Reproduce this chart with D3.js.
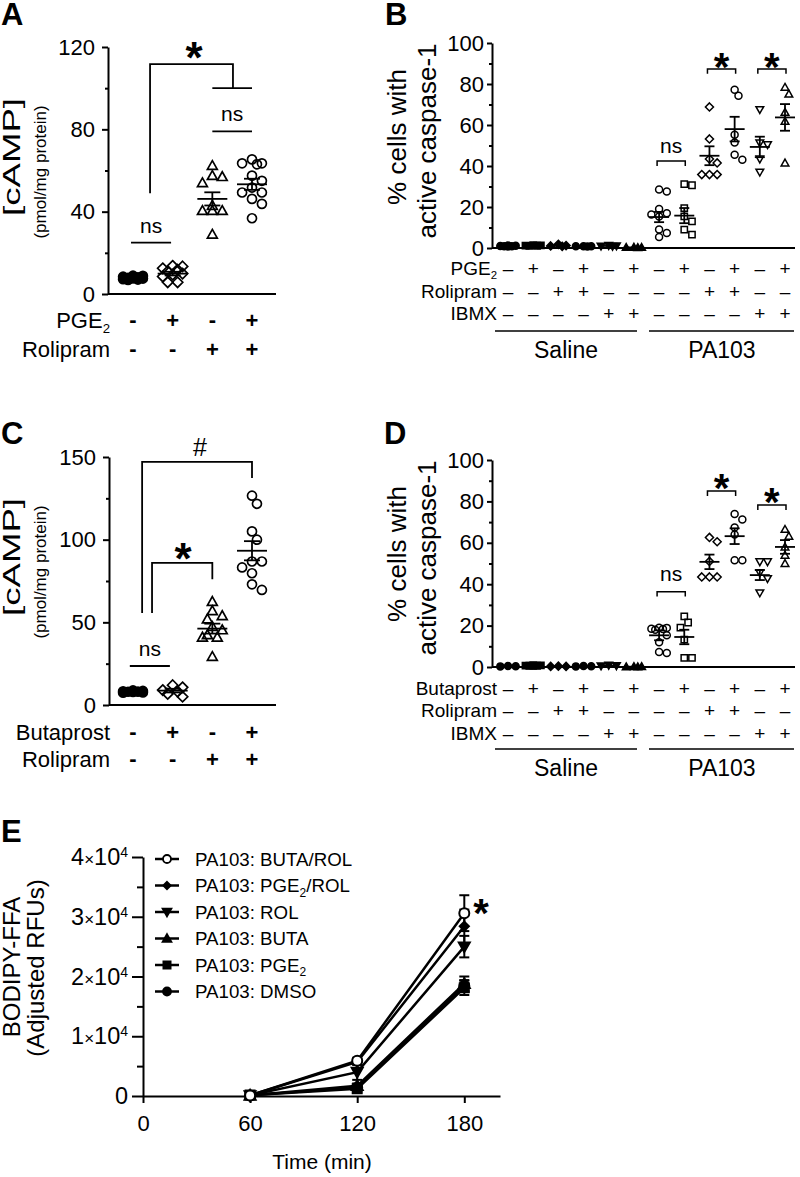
<!DOCTYPE html>
<html><head><meta charset="utf-8">
<script src="https://cdn.jsdelivr.net/npm/d3@7"></script>
<style>body{margin:0;background:#fff} svg{display:block}</style>
</head><body>
<svg id="c" width="800" height="1177"></svg>
<script>
// ---------------- DATA ----------------
// Panel A: cAMP, PGE2 / Rolipram
const aPGE2 = ["-", "+", "-", "+"];
const aRolipram = ["-", "-", "+", "+"];
const aSymbols = ["circle", "diamond", "triangle", "circle"];
const aFilled = [true, false, false, false];
const aValues = [
  [7.2, 7.8, 8.4, 7.0, 8.8, 7.5, 8.1, 8.9, 7.6, 6.8],
  [13.7, 13.4, 11.8, 11.0, 9.9, 9.4, 8.5, 5.7, 5.7, 12.5],
  [62.4, 57.0, 57.5, 54.0, 43.0, 40.5, 40.5, 40.5, 29.0],
  [63.5, 63.5, 65.4, 63.0, 57.5, 55.0, 51.7, 49.3, 49.3, 46.2, 43.8, 36.8]
];
const aMean = [7.8, 9.9, 46.2, 53.3];
const aSem = [0.3, 0.9, 3.2, 2.7];
const aTicks = [0, 40, 80, 120];
const aMinor = [20, 60, 100];

// Panel C: cAMP, Butaprost / Rolipram
const cButaprost = ["-", "+", "-", "+"];
const cRolipram = ["-", "-", "+", "+"];
const cSymbols = ["circle", "diamond", "triangle", "circle"];
const cFilled = [true, false, false, false];
const cValues = [
  [8.1, 7.6, 8.5, 7.9, 8.3, 7.4, 8.8, 8.0],
  [12.0, 10.7, 9.0, 8.1, 6.7, 5.0],
  [62.6, 57.0, 54.0, 52.0, 47.4, 45.4, 42.4, 41.0, 41.0, 29.3],
  [126.6, 121.7, 105.0, 100.0, 86.8, 86.8, 83.2, 79.7, 73.0, 69.6]
];
const cMean = [8.1, 8.7, 46.2, 93.3];
const cSem = [0.3, 1.1, 3.0, 5.8];
const cTicks = [0, 50, 100, 150];
const cMinor = [25, 75, 125];

// Panel B: % caspase-1, PGE2 / Rolipram / IBMX
const bPGE2 =     ["-", "+", "-", "+", "-", "+", "-", "+", "-", "+", "-", "+"];
const bRolipram = ["-", "-", "+", "+", "-", "-", "-", "-", "+", "+", "-", "-"];
const bIBMX =     ["-", "-", "-", "-", "+", "+", "-", "-", "-", "-", "+", "+"];
const bSymbols = ["circle", "square", "diamond", "circle", "triangleDown", "triangle",
                  "circle", "square", "diamond", "circle", "triangleDown", "triangle"];
const bFilled = [true, true, true, true, true, true, false, false, false, false, false, false];
const bValues = [
  [1.0, 0.8, 1.2, 0.9, 1.1, 0.7],
  [1.2, 1.0, 1.4, 1.1, 1.3],
  [1.0, 0.8, 1.8, 1.2],
  [0.8, 0.7, 0.9, 0.8],
  [1.0, 0.8, 1.2, 0.9],
  [0.3, 0.4, 0.2, 0.3],
  [27.6, 28.5, 19.0, 17.0, 16.3, 15.4, 9.0, 7.3, 5.4],
  [30.6, 31.2, 19.5, 15.4, 13.0, 9.0, 6.5],
  [68.8, 53.2, 43.4, 41.5, 35.8, 35.8, 35.8],
  [77.2, 74.3, 55.3, 51.5, 45.5, 43.0],
  [67.5, 51.2, 50.4, 43.4, 37.0],
  [78.4, 75.1, 66.2, 61.8, 41.5]
];
const bMean = [1.0, 1.2, 1.1, 0.8, 1.0, 0.3, 15.1, 15.8, 45.0, 58.0, 49.3, 63.7];
const bSem = [0.1, 0.1, 0.2, 0.05, 0.1, 0.05, 2.5, 3.7, 4.6, 6.0, 5.0, 6.5];
const pctTicks = [0, 20, 40, 60, 80, 100];
const pctMinor = [10, 30, 50, 70, 90];
const treatGroups = ["Saline", "PA103"];

// Panel D: % caspase-1, Butaprost / Rolipram / IBMX
const dButaprost = ["-", "+", "-", "+", "-", "+", "-", "+", "-", "+", "-", "+"];
const dRolipram =  ["-", "-", "+", "+", "-", "-", "-", "-", "+", "+", "-", "-"];
const dIBMX =      ["-", "-", "-", "-", "+", "+", "-", "-", "-", "-", "+", "+"];
const dValues = [
  [0.4, 0.5, 0.3],
  [0.6, 0.8, 0.5, 0.7, 0.9, 0.6],
  [0.3, 0.4, 0.3],
  [0.4, 0.3, 0.5],
  [0.6, 0.8, 0.5],
  [0.1, 0.2, 0.1, 0.2],
  [18.9, 18.4, 18.5, 18.0, 19.0, 15.3, 12.0, 6.8, 7.3],
  [24.5, 21.5, 19.0, 13.2, 4.4, 4.4],
  [62.6, 60.5, 51.0, 43.5, 43.5, 43.5],
  [73.9, 71.3, 67.4, 64.0, 51.6, 51.6],
  [50.8, 50.8, 45.5, 42.7, 35.8],
  [66.5, 63.2, 58.0, 54.0, 50.0]
];
const dMean = [0.4, 0.6, 0.3, 0.4, 0.6, 0.15, 15.3, 14.5, 50.8, 63.2, 44.4, 58.0];
const dSem = [0.05, 0.1, 0.05, 0.05, 0.1, 0.05, 2.4, 3.5, 3.5, 3.8, 2.4, 3.3];

// Panel E: BODIPY-FFA time course
const eTimes = [60, 120, 180];
const eNames = ["BUTA/ROL", "PGE2/ROL", "ROL", "BUTA", "PGE2", "DMSO"];
const eSymbols = ["circle", "diamond", "triangleDown", "triangle", "square", "circle"];
const eFilled = [false, true, true, true, true, true];
const eMeans = [
  [100, 5900, 30600],
  [100, 5700, 28400],
  [100, 4000, 25000],
  [100, 1700, 18800],
  [150, 1200, 18100],
  [100, 1400, 18400]
];
const eErrs = [
  [80, 500, 3000],
  [80, 500, 2800],
  [80, 1300, 1800],
  [80, 400, 1200],
  [80, 500, 1200],
  [80, 400, 1000]
];
const eXTicks = [0, 60, 120, 180];
const eYTicks = [0, 10000, 20000, 30000, 40000];
const eYMinor = [5000, 15000, 25000, 35000];

// ---------------- DRAWING ----------------
const FONT = "'Liberation Sans', Arial, Helvetica, sans-serif";
const svg = d3.select("#c").attr("font-family", FONT);

function markerPath(type, s) {
  const h = s / 2;
  switch (type) {
    case "circle": return `M${h},0A${h},${h} 0 1,1 ${-h},0A${h},${h} 0 1,1 ${h},0Z`;
    case "square": { const q = h * 0.9; return `M${-q},${-q}H${q}V${q}H${-q}Z`; }
    case "diamond": { const d = h * 1.15; return `M0,${-d}L${d},0L0,${d}L${-d},0Z`; }
    case "triangle": return `M0,${-h * 1.1}L${h * 1.1},${h * 0.85}L${-h * 1.1},${h * 0.85}Z`;
    case "triangleDown": return `M0,${h * 1.1}L${h * 1.1},${-h * 0.85}L${-h * 1.1},${-h * 0.85}Z`;
  }
}
function marker(g, type, filled, s, x, y, sw) {
  g.append("path").attr("d", markerPath(type, s))
    .attr("transform", `translate(${x},${y})`)
    .attr("fill", filled ? "#000" : "none")
    .attr("stroke", "#000").attr("stroke-width", sw);
}
function line(g, x1, y1, x2, y2, sw) {
  g.append("line").attr("x1", x1).attr("y1", y1).attr("x2", x2).attr("y2", y2)
    .attr("stroke", "#000").attr("stroke-width", sw);
}
function txt(g, x, y, s, fs, anchor, weight) {
  return g.append("text").attr("x", x).attr("y", y).attr("font-size", fs)
    .attr("text-anchor", anchor || "middle").attr("font-weight", weight || "normal")
    .attr("fill", "#000").text(s);
}
// deterministic beeswarm offsets
function swarm(vals, y, size, maxHalf) {
  const pts = vals.map((v, i) => ({ v, py: y(v), i })).sort((a, b) => b.v - a.v);
  const placed = [];
  const step = size * 0.55;
  for (const p of pts) {
    let best = 0, bestScore = -Infinity;
    for (let k = 0; k <= 24; k++) {
      const off = (k % 2 === 1 ? 1 : -1) * Math.ceil(k / 2) * step || 0;
      if (Math.abs(off) > maxHalf) continue;
      let minD = Infinity;
      for (const q of placed) { const d = Math.hypot(q.dx - off, q.py - p.py); if (d < minD) minD = d; }
      if (minD >= size) { best = off; bestScore = Infinity; break; }
      if (minD > bestScore) { bestScore = minD; best = off; }
    }
    p.dx = best; placed.push(p);
  }
  return placed;
}
function dotPlot(g, o) {
  o.values.forEach((vals, i) => {
    const cx = o.x(i);
    swarm(vals, o.y, o.size, o.spread).forEach(p =>
      marker(g, o.symbols[i], o.filled[i], o.size, cx + p.dx, p.py, o.sw));
  });
  o.values.forEach((vals, i) => {
    const cx = o.x(i), m = o.mean[i], e = o.sem[i];
    line(g, cx - o.meanHalf, o.y(m), cx + o.meanHalf, o.y(m), 1.8);
    if (e > 0.3) {
      line(g, cx, o.y(m - e), cx, o.y(m + e), 1.8);
      line(g, cx - o.capHalf, o.y(m + e), cx + o.capHalf, o.y(m + e), 1.8);
      line(g, cx - o.capHalf, o.y(m - e), cx + o.capHalf, o.y(m - e), 1.8);
    }
  });
}
function yAxis(g, y, x0, majors, minors, fs, tl, pad, ml, fmt) {
  const ax = g.append("g").attr("transform", `translate(${x0},0)`)
    .call(d3.axisLeft(y).tickValues(majors).tickSize(tl).tickPadding(pad).tickSizeOuter(0)
      .tickFormat(fmt || d3.format("d")));
  ax.select(".domain").attr("stroke-width", 2);
  ax.selectAll(".tick line").attr("stroke-width", 2);
  ax.selectAll(".tick text").attr("font-size", fs).attr("font-family", FONT).attr("fill", "#000");
  const mx = g.append("g").attr("transform", `translate(${x0},0)`)
    .call(d3.axisLeft(y).tickValues(minors).tickSize(ml).tickFormat(() => ""));
  mx.select(".domain").remove();
  mx.selectAll(".tick line").attr("stroke-width", 2);
  return ax;
}
function vLabel(g, x, cy, s, fs, len) {
  const t = g.append("text").attr("transform", `translate(${x},${cy}) rotate(-90)`)
    .attr("text-anchor", "middle").attr("font-size", fs).attr("fill", "#000").text(s);
  if (len) t.attr("textLength", len).attr("lengthAdjust", "spacingAndGlyphs");
  return t;
}
function signText(g, x, cy, s, fs, weight) {
  const off = s === "*" ? 0.6 : (s === "#" ? 0.36 : 0.27);
  txt(g, x, cy + off * fs, s, fs, "middle", weight);
}
function subLabel(g, x, y, base, sub, fs, anchor) {
  const t = g.append("text").attr("x", x).attr("y", y).attr("font-size", fs)
    .attr("text-anchor", anchor).attr("fill", "#000");
  t.append("tspan").text(base);
  if (sub) t.append("tspan").attr("font-size", fs * 0.6).attr("dy", fs * 0.22).text(sub);
  return t;
}

// Panel letters
[["A", 1, 25], ["B", 385, 25], ["C", 1, 444], ["D", 384, 444], ["E", 1, 842]].forEach(([l, x, y]) =>
  txt(svg, x, y, l, 31, "start", "bold"));

// ---------- cAMP panels (A, C) ----------
function campPanel(o) {
  const g = svg.append("g");
  const x = d3.scaleLinear().domain([0, 3]).range([133, 252]);
  const y = d3.scaleLinear().domain(o.domain).range(o.range);
  yAxis(g, y, o.axisX, o.ticks, o.minor, 22, 6, 7, 3);
  line(g, o.axisX, y(0), 276, y(0), 2);
  dotPlot(g, { x, y, values: o.values, mean: o.mean, sem: o.sem, symbols: o.symbols, filled: o.filled,
    size: 9, sw: 1.7, meanHalf: 15, capHalf: 8, spread: 14 });
  o.rows.forEach((r, ri) => {
    const cy = o.rowY[ri];
    subLabel(g, 110, cy + 8, r.label, r.sub, 22, "end");
    r.signs.forEach((s, i) => txt(g, x(i), cy + (s === "+" ? 7.5 : 6.5), s, 22, "middle", "bold"));
  });
  o.sig.forEach(s => {
    if (s.kind === "bar") {
      line(g, x(s.i1), y(s.v), x(s.i2), y(s.v), 1.8);
    } else {
      const p = `M${x(s.i1)},${y(s.v1)}V${y(s.top)}H${x(s.i2)}V${y(s.v2)}`;
      g.append("path").attr("d", p).attr("fill", "none").attr("stroke", "#000").attr("stroke-width", 1.8);
    }
    if (s.text) signText(g, x(s.ti !== undefined ? s.ti : (s.i1 + s.i2) / 2), y(s.tv), s.text,
      s.text === "*" ? 44 : (s.text === "#" ? 25 : 21), s.text === "*" ? "bold" : "normal");
  });
  vLabel(g, 20, o.labelY, "[cAMP]", 24, 118);
  vLabel(g, 46, o.labelY + 15, "(pmol/mg protein)", 17);
}
campPanel({
  domain: [0, 120], range: [294, 47], axisX: 108, ticks: aTicks, minor: aMinor,
  values: aValues, mean: aMean, sem: aSem, symbols: aSymbols, filled: aFilled,
  rows: [{ label: "PGE", sub: "2", signs: aPGE2 }, { label: "Rolipram", signs: aRolipram }],
  rowY: [320, 349], labelY: 157,
  sig: [
    { kind: "bar", i1: -0.05, i2: 0.96, v: 25, text: "ns", tv: 32.6 },
    { kind: "bar", i1: 2, i2: 3, v: 79, text: "ns", tv: 87 },
    { kind: "bar", i1: 2, i2: 3, v: 100 },
    { kind: "bracket", i1: 0.43, v1: 49, i2: 2.52, v2: 100, top: 111.7, text: "*", ti: 1.54, tv: 120 }
  ]
});
campPanel({
  domain: [0, 150], range: [705, 457], axisX: 109, ticks: cTicks, minor: cMinor,
  values: cValues, mean: cMean, sem: cSem, symbols: cSymbols, filled: cFilled,
  rows: [{ label: "Butaprost", signs: cButaprost }, { label: "Rolipram", signs: cRolipram }],
  rowY: [732, 759], labelY: 557,
  sig: [
    { kind: "bar", i1: -0.08, i2: 0.93, v: 23.6, text: "ns", tv: 33 },
    { kind: "bracket", i1: 0.23, v1: 55.7, i2: 3, v2: 137.3, top: 147, text: "#", ti: 1.69, tv: 156 },
    { kind: "bracket", i1: 0.48, v1: 55.7, i2: 2, v2: 76, top: 86, text: "*", ti: 1.26, tv: 95 }
  ]
});

// ---------- caspase panels (B, D) ----------
function caspPanel(o) {
  const g = svg.append("g");
  const x = d3.scalePoint().domain(d3.range(12)).range([508, 785]);
  const y = d3.scaleLinear().domain([0, 100]).range(o.range);
  yAxis(g, y, 492, pctTicks, pctMinor, 22, 5, 3, 3);
  line(g, 492, y(0), 795, y(0), 2);
  dotPlot(g, { x, y, values: o.values, mean: o.mean, sem: o.sem, symbols: bSymbols, filled: bFilled,
    size: 7, sw: 1.5, meanHalf: 10, capHalf: 5, spread: 10 });
  o.rows.forEach((r, ri) => {
    const cy = o.rowY[ri];
    subLabel(g, 497, cy + 7, r.label, r.sub, 19, "end");
    r.signs.forEach((s, i) => txt(g, x(i), cy + (s === "+" ? 7 : 6.5), s === "-" ? "\u2013" : s, 19, "middle"));
  });
  line(g, 495, o.lineY, 637, o.lineY, 1.5);
  line(g, 649, o.lineY, 794, o.lineY, 1.5);
  txt(g, 566, o.lineY + 27, treatGroups[0], 23);
  txt(g, 722, o.lineY + 27, treatGroups[1], 23);
  o.sig.forEach(s => {
    const x1 = x(s.i1) - 2, x2 = x(s.i2) + 1;
    g.append("path").attr("d", `M${x1},${y(s.leg)}V${y(s.top)}H${x2}V${y(s.leg)}`)
      .attr("fill", "none").attr("stroke", "#000").attr("stroke-width", 1.5);
    signText(g, (x1 + x2) / 2, y(s.tv), s.text, s.text === "*" ? 40 : 21, s.text === "*" ? "bold" : "normal");
  });
  vLabel(g, 406, o.labelY, "% cells with", 26);
  vLabel(g, 436, o.labelY + 4, "active caspase-1", 26);
}
caspPanel({
  range: [248, 43], values: bValues, mean: bMean, sem: bSem,
  rows: [{ label: "PGE", sub: "2", signs: bPGE2 }, { label: "Rolipram", signs: bRolipram }, { label: "IBMX", signs: bIBMX }],
  rowY: [268, 291, 313], lineY: 331, labelY: 137,
  sig: [
    { i1: 6, i2: 7, top: 42.4, leg: 40, text: "ns", tv: 49.3 },
    { i1: 8, i2: 9, top: 87.3, leg: 85, text: "*", tv: 93.2 },
    { i1: 10, i2: 11, top: 87.3, leg: 85, text: "*", tv: 93.2 }
  ]
});
caspPanel({
  range: [667, 460], values: dValues, mean: dMean, sem: dSem,
  rows: [{ label: "Butaprost", signs: dButaprost }, { label: "Rolipram", signs: dRolipram }, { label: "IBMX", signs: dIBMX }],
  rowY: [688, 710, 733], lineY: 749, labelY: 554,
  sig: [
    { i1: 6, i2: 7, top: 36.3, leg: 34, text: "ns", tv: 44.4 },
    { i1: 8, i2: 9, top: 85, leg: 82.6, text: "*", tv: 91.3 },
    { i1: 10, i2: 11, top: 78.3, leg: 75.8, text: "*", tv: 84.5 }
  ]
});

// ---------- Panel E ----------
(function () {
  const g = svg.append("g");
  const x = d3.scaleLinear().domain([0, 200]).range([143, 500]);
  const y = d3.scaleLinear().domain([0, 40000]).range([1096, 857]);
  const ax = yAxis(g, y, 143, eYTicks, eYMinor, 23.5, 11, 4, 6, d => d);
  ax.selectAll(".tick text").each(function (d) {
    const t = d3.select(this); t.text(null);
    if (d === 0) { t.text("0"); return; }
    t.append("tspan").text(`${d / 10000}`);
    t.append("tspan").attr("font-size", 17).text("\u00d7");
    t.append("tspan").text("10");
    t.append("tspan").attr("font-size", 14).attr("dy", -8).text("4");
  });
  const xa = g.append("g").attr("transform", `translate(0,${y(0)})`)
    .call(d3.axisBottom(x).tickValues(eXTicks).tickSize(7).tickPadding(12).tickSizeOuter(0));
  xa.select(".domain").attr("stroke-width", 2);
  xa.selectAll(".tick line").attr("stroke-width", 2);
  xa.selectAll(".tick text").attr("font-size", 22).attr("font-family", FONT).attr("fill", "#000");

  const ln = d3.line().x((d, i) => x(eTimes[i])).y(d => y(d));
  const order = [5, 4, 3, 2, 1, 0];
  order.forEach(s => g.append("path").attr("d", ln(eMeans[s])).attr("fill", "none")
    .attr("stroke", "#000").attr("stroke-width", 2.5));
  order.forEach(s => eMeans[s].forEach((m, i) => {
    const e = eErrs[s][i], cx = x(eTimes[i]);
    if (e > 200) {
      line(g, cx, y(m - e), cx, y(m + e), 2);
      line(g, cx - 5, y(m + e), cx + 5, y(m + e), 2);
      line(g, cx - 5, y(m - e), cx + 5, y(m - e), 2);
    }
  }));
  order.forEach(s => eMeans[s].forEach((m, i) => {
    const cx = x(eTimes[i]);
    g.append("path").attr("d", markerPath(eSymbols[s], eSymbols[s] === "diamond" ? 8 : 10))
      .attr("transform", `translate(${cx},${y(m)})`)
      .attr("fill", eFilled[s] ? "#000" : "#fff").attr("stroke", "#000").attr("stroke-width", 2);
  }));
  signText(g, 481, 903, "*", 40, "bold");

  // legend
  eNames.forEach((n, i) => {
    const cy = 859 + i * 26.5;
    line(g, 155, cy, 179, cy, 2.5);
    g.append("path").attr("d", markerPath(eSymbols[i], eSymbols[i] === "diamond" ? 6.5 : 8))
      .attr("transform", `translate(167,${cy})`)
      .attr("fill", eFilled[i] ? "#000" : "#fff").attr("stroke", "#000").attr("stroke-width", 1.8);
    const t = g.append("text").attr("x", 195).attr("y", cy + 6.8).attr("font-size", 18.7).attr("fill", "#000");
    const parts = n.split("2");
    t.append("tspan").text("PA103: " + parts[0]);
    if (parts.length > 1) {
      t.append("tspan").attr("font-size", 12).attr("dy", 4.5).text("2");
      if (parts[1]) t.append("tspan").attr("dy", -4.5).text(parts[1]);
    }
  });
  vLabel(g, 20, 967, "BODIPY-FFA", 24);
  vLabel(g, 44, 968, "(Adjusted RFUs)", 24);
  txt(g, 322, 1169, "Time (min)", 21);
})();
</script>
</body></html>
